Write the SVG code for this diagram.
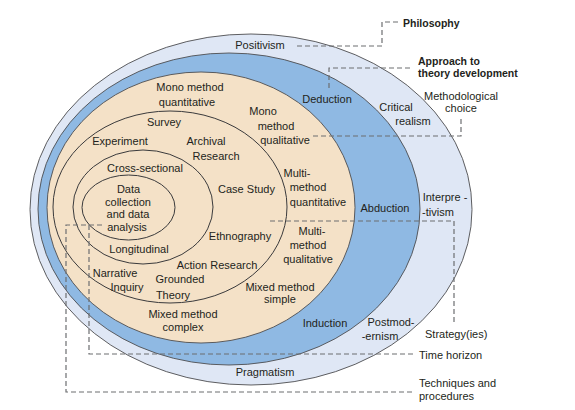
<svg xmlns="http://www.w3.org/2000/svg" width="575" height="410" viewBox="0 0 575 410">
<style>
.t{font-family:"Liberation Sans",Arial,sans-serif;font-size:11px;fill:#231f20;text-anchor:middle}
.l{font-family:"Liberation Sans",Arial,sans-serif;font-size:11px;fill:#231f20;text-anchor:start}
.b{font-family:"Liberation Sans",Arial,sans-serif;font-size:10.5px;font-weight:bold;fill:#231f20;text-anchor:start}
.ring{stroke:#4d4d4f;stroke-width:0.9}
.line{fill:none;stroke:#3a3a3c;stroke-width:1}
.dash{fill:none;stroke:#6d6e71;stroke-width:1.2;stroke-dasharray:5 3}
</style>
<rect width="575" height="410" fill="#ffffff"/>
<g id="philosophy">
<ellipse class="ring" cx="251" cy="209.5" rx="221" ry="175.5" fill="#dfe7f5"/>
<text class="t" x="260" y="49">Positivism</text>
<text class="t" x="396" y="111">Critical</text>
<text class="t" x="413" y="125">realism</text>
<text class="t" x="445" y="201">Interpre -</text>
<text class="t" x="438" y="216">-tivism</text>
<text class="t" x="391" y="326">Postmod-</text>
<text class="t" x="380" y="340">-ernism</text>
<text class="t" x="265" y="376">Pragmatism</text>
</g>
<g id="approach">
<ellipse class="ring" cx="229" cy="209" rx="191" ry="156" fill="#8fb9e3"/>
<text class="t" x="327" y="103">Deduction</text>
<text class="t" x="385" y="212">Abduction</text>
<text class="t" x="325" y="327">Induction</text>
</g>
<g id="methodological-choice">
<ellipse class="ring" cx="201" cy="207.5" rx="154" ry="135.5" fill="#f4e1c7"/>
<text class="t" x="190" y="91">Mono method</text>
<text class="t" x="187" y="106">quantitative</text>
<text class="t" x="263" y="115">Mono</text>
<text class="t" x="276" y="130">method</text>
<text class="t" x="285" y="144">qualitative</text>
<text class="t" x="297" y="177">Multi-</text>
<text class="t" x="308" y="191">method</text>
<text class="t" x="318" y="206">quantitative</text>
<text class="t" x="312" y="235">Multi-</text>
<text class="t" x="308" y="249">method</text>
<text class="t" x="308" y="263">qualitative</text>
<text class="t" x="280" y="291">Mixed method</text>
<text class="t" x="280" y="303">simple</text>
<text class="t" x="183" y="318">Mixed method</text>
<text class="t" x="183" y="331">complex</text>
</g>
<g id="strategies">
<ellipse class="line" cx="170" cy="207" rx="117" ry="96"/>
<text class="t" x="164" y="126">Survey</text>
<text class="t" x="120" y="145">Experiment</text>
<text class="t" x="206" y="145">Archival</text>
<text class="t" x="216" y="160">Research</text>
<text class="t" x="246.5" y="193">Case Study</text>
<text class="t" x="240" y="240">Ethnography</text>
<text class="t" x="217" y="269">Action Research</text>
<text class="t" x="115" y="277">Narrative</text>
<text class="t" x="127" y="291">Inquiry</text>
<text class="t" x="180" y="283">Grounded</text>
<text class="t" x="173" y="299">Theory</text>
</g>
<g id="time-horizon">
<ellipse class="line" cx="143" cy="207" rx="70" ry="57"/>
<text class="t" x="145" y="172">Cross-sectional</text>
<text class="t" x="139" y="253">Longitudinal</text>
</g>
<g id="core">
<ellipse class="line" cx="128.5" cy="207.5" rx="46.5" ry="32.5" fill="#ffffff"/>
<text class="t" x="128.5" y="193">Data</text>
<text class="t" x="128" y="205.5">collection</text>
<text class="t" x="128" y="218">and data</text>
<text class="t" x="127" y="230.5">analysis</text>
</g>
<g id="connectors">
<polyline class="dash" points="297,46 382,46 382,22 398,22"/>
<polyline class="dash" points="329,88 329,68 413,68"/>
<polyline class="dash" points="313,136 461,136 461,117"/>
<polyline class="dash" points="270,221 454,221 454,325"/>
<polyline class="dash" points="89,225 89,354 413,354"/>
<polyline class="dash" points="102,225 66,225 66,392 413,392"/>
</g>
<g id="label-philosophy"><text class="b" x="403" y="27">Philosophy</text></g>
<g id="label-approach"><text class="b" x="418" y="65">Approach to</text><text class="b" x="418" y="76.5">theory development</text></g>
<g id="label-methodological"><text class="t" x="461" y="100">Methodological</text><text class="t" x="461" y="111.5">choice</text></g>
<g id="label-strategy"><text class="l" x="425" y="338">Strategy(ies)</text></g>
<g id="label-time"><text class="l" x="419" y="359">Time horizon</text></g>
<g id="label-techniques"><text class="l" x="419" y="387">Techniques and</text><text class="l" x="419" y="400">procedures</text></g>
</svg>
